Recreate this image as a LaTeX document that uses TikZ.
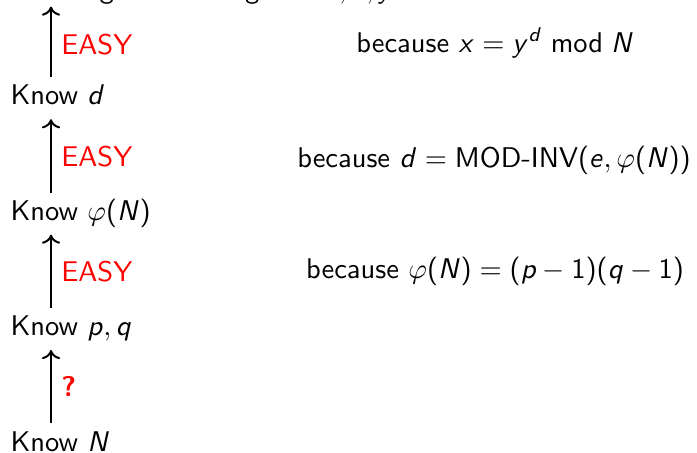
\documentclass[tikz,border=0pt]{standalone}
\usetikzlibrary{positioning, arrows.meta}
% sans serif math letters, as on the slide
\DeclareSymbolFont{operators}{OT1}{cmss}{m}{n}
\DeclareSymbolFont{sfletters}{OT1}{cmss}{m}{sl}
\DeclareMathSymbol{d}{\mathalpha}{sfletters}{`d}
\DeclareMathSymbol{e}{\mathalpha}{sfletters}{`e}
\DeclareMathSymbol{p}{\mathalpha}{sfletters}{`p}
\DeclareMathSymbol{q}{\mathalpha}{sfletters}{`q}
\DeclareMathSymbol{x}{\mathalpha}{sfletters}{`x}
\DeclareMathSymbol{y}{\mathalpha}{sfletters}{`y}
\DeclareMathSymbol{N}{\mathalpha}{sfletters}{`N}
\newcommand{\modinv}{\mbox{MOD-INV}}

\begin{document}
\begin{tikzpicture}[
		x=0.351pt, y=-0.351pt, font=\sffamily,
		>={Computer Modern Rightarrow[length=3.2pt, width=6.4pt]},
		% Define styles
		know/.style={inner sep=0pt, text height=7pt, text depth=2.5pt},
		easy/.style={red, inner sep=3.3pt},
		why/.style={anchor=base, inner sep=0pt},
		up/.style={->, line width=0.7pt, shorten <=2.5pt, shorten >=2.35pt}
		]
		\useasboundingbox (0,0) rectangle (697,452);
		
		% 1. Left column, from the bottom up
		\node[know, anchor=base west] (kn) at (10,451) {Know $N$};
		\node[know, above=30.6pt of kn.north west, anchor=south west] (kpq) {Know $p, q$};
		\node[know, above=30.6pt of kpq.north west, anchor=south west] (kphi) {Know $\varphi(N)$};
		\node[know, above=30.6pt of kphi.north west, anchor=south west] (kd) {Know $d$};
		\node[know, above=27.6pt of kd.north west, anchor=south west] (top) {Knowing the result given $N, e, y$};
		
		% 2. Arrows
		\coordinate (ax) at (51,0);
		\draw[up] (kn.north -| ax) -- (kpq.south -| ax) node[easy, midway, right] (q) {\textbf{?}};
		\draw[up] (kpq.north -| ax) -- (kphi.south -| ax) node[easy, midway, right] (e3) {EASY};
		\draw[up] (kphi.north -| ax) -- (kd.south -| ax) node[easy, midway, right] (e2) {EASY};
		\draw[up, shorten >=0.3pt] (kd.north -| ax) -- (top.south -| ax) node[easy, midway, right] (e1) {EASY};
		
		% 3. Reasons
		\node[why] (w1) at (495,52) {because $x = y^d \bmod N$};
		\node[why] (w2) at (494,167) {because $d = \modinv(e, \varphi(N))$};
		\node[why] (w3) at (495,278) {because $\varphi(N) = (p - 1)(q - 1)$};
		
	\end{tikzpicture}
\end{document}
